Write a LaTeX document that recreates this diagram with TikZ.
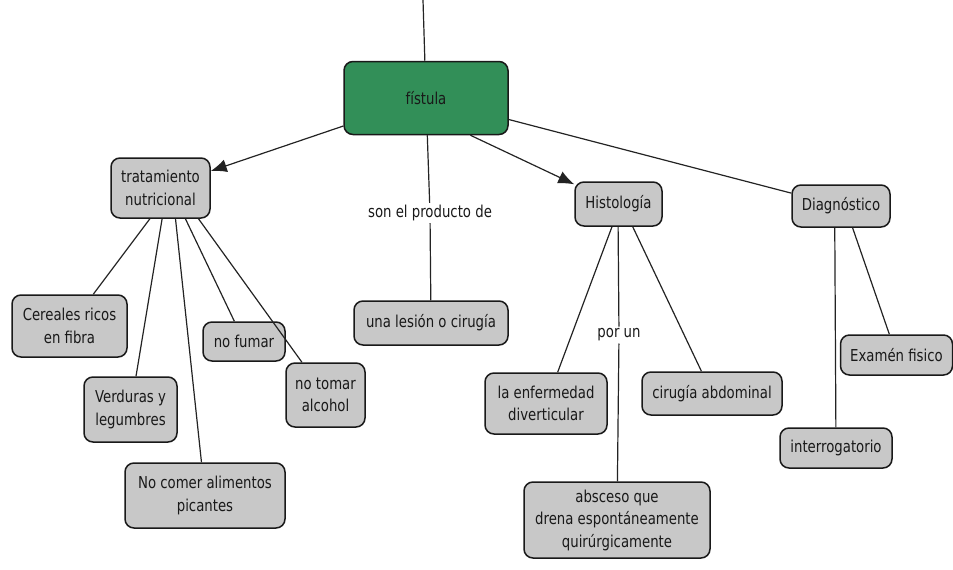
\documentclass[tikz,border=0pt]{standalone}
\usepackage{fontspec}
\setmainfont{DejaVu Sans}[FakeStretch=0.81]
\usetikzlibrary{arrows.meta}
\definecolor{ConceptGray}{RGB}{200,200,200}
\definecolor{RootGreen}{RGB}{50,143,88}
\definecolor{LinkGray}{RGB}{35,35,35}
\newcommand{\MapFont}{\fontsize{16.4}{22.5}\selectfont}

\begin{document}
\begin{tikzpicture}[x=1pt,y=-1pt,
    concept/.style={draw=black!90,line width=1.5pt,fill=ConceptGray,rounded corners=9pt,
      align=center,inner sep=2pt,font=\MapFont,text=black!90},
    rootconcept/.style={concept,fill=RootGreen},
    linkphrase/.style={inner sep=2pt,font=\MapFont,text=black!90},
    link/.style={draw=LinkGray,line width=1.2pt},
    arrowlink/.style={link,-{Latex[length=16pt,width=13pt]}}]
  \useasboundingbox (0,0) rectangle (953,570);

  \node[rootconcept,minimum width=164pt,minimum height=73pt] (fistula) at (426,98) {fístula};
  \coordinate (above) at (423,0);

  \node[concept,minimum width=99pt,minimum height=60pt] (trat) at (160.5,188) {tratamiento\\nutricional};
  \node[concept,minimum width=115pt,minimum height=62pt] (cereales) at (69.5,326) {Cereales ricos\\en fibra};
  \node[concept,minimum width=93pt,minimum height=65pt] (verduras) at (130.5,409.5) {Verduras y\\legumbres};
  \node[concept,minimum width=160pt,minimum height=65pt] (picantes) at (205,495.5) {No comer alimentos\\picantes};
  \node[concept,minimum width=82pt,minimum height=39pt] (fumar) at (244,341.5) {no fumar};
  \node[concept,minimum width=79pt,minimum height=64pt] (alcohol) at (325.5,395) {no tomar\\alcohol};

  \node[linkphrase] (producto) at (430,213) {son el producto de};
  \node[concept,minimum width=154pt,minimum height=44pt] (lesion) at (431,323) {una lesión o cirugía};

  \node[concept,minimum width=87pt,minimum height=44pt] (histo) at (618.5,204) {Histología};
  \node[concept,minimum width=122pt,minimum height=61pt] (divert) at (546,403.5) {la enfermedad\\diverticular};
  \node[concept,minimum width=140pt,minimum height=43pt] (cirugia) at (712,393.5) {cirugía abdominal};
  \node[linkphrase] (porun) at (619,335) {por un};
  \node[concept,minimum width=186pt,minimum height=76pt] (absceso) at (617,520) {absceso que\\drena espontáneamente\\quirúrgicamente};

  \node[concept,minimum width=98pt,minimum height=42pt] (diag) at (841,206) {Diagnóstico};
  \node[concept,minimum width=112pt,minimum height=40pt] (examen) at (896.5,355) {Examén fisico};
  \node[concept,minimum width=112pt,minimum height=40pt] (interro) at (836,448) {interrogatorio};

  \draw[link] (above) -- (fistula);
  \draw[arrowlink] (fistula) -- (trat);
  \draw[arrowlink] (fistula.-40) -- (histo.156);
  \draw[link] (fistula) -- (diag);
  \draw[link] (fistula) -- (producto) -- (lesion);

  \draw[link] (trat.-109) -- (cereales);
  \draw[link] (trat.-87) -- (verduras);
  \draw[link] (trat.-64) -- (picantes);
  \draw[link] (trat.-51) -- (fumar);
  \draw[link] (trat.-39) -- (alcohol);

  \draw[link] (histo.-106) -- (divert);
  \draw[link] (histo.-91) -- (porun) -- (absceso);
  \draw[link] (histo.-58) -- (cirugia);

  \draw[link] (diag.-106) -- (interro);
  \draw[link] (diag.-62) -- (examen);
\end{tikzpicture}
\end{document}
